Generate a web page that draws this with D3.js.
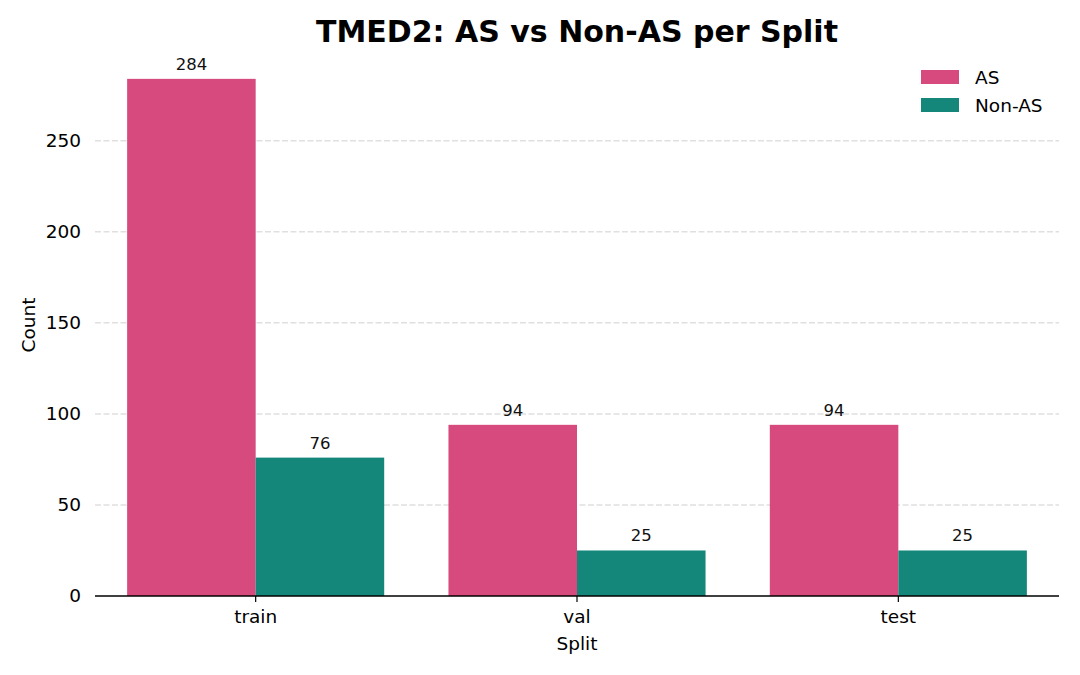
<!DOCTYPE html>
<html><head><meta charset="utf-8">
<script src="https://cdn.jsdelivr.net/npm/d3@7"></script>
<style>body{margin:0;background:#fff;} text{font-family:"DejaVu Sans",sans-serif;}</style>
</head><body>
<svg id="c" width="1080" height="675"></svg>
<script>
const splits = ["train", "val", "test"];
const seriesNames = ["AS", "Non-AS"];
const asCounts = [284, 94, 94];
const nonAsCounts = [76, 25, 25];
const yTicks = [0, 50, 100, 150, 200, 250];
const colors = ["#d64a7d", "#14877a"];

const svg = d3.select("#c");
const m = {l: 95, r: 1059, t: 53, b: 596};
const x = d3.scaleBand().domain(splits).range([m.l, m.r]).paddingInner(0.2).paddingOuter(0.1);
const xs = d3.scaleBand().domain(seriesNames).range([0, x.bandwidth()]);
const y = d3.scaleLinear().domain([0, 298.2]).range([m.b, m.t]);

// grid
svg.append("g").selectAll("line").data(yTicks.filter(d => d > 0)).join("line")
  .attr("x1", m.l).attr("x2", m.r).attr("y1", d => y(d)).attr("y2", d => y(d))
  .attr("stroke", "#e0e0e0").attr("stroke-width", 1.5).attr("stroke-dasharray", "6,2.5");

const data = splits.map((s, i) => ({split: s, vals: [asCounts[i], nonAsCounts[i]]}));
const g = svg.append("g").selectAll("g").data(data).join("g")
  .attr("transform", d => `translate(${x(d.split)},0)`);
g.selectAll("rect").data(d => d.vals.map((v, j) => ({k: seriesNames[j], v, j}))).join("rect")
  .attr("x", d => xs(d.k)).attr("width", xs.bandwidth())
  .attr("y", d => y(d.v)).attr("height", d => m.b - y(d.v))
  .attr("fill", d => colors[d.j]);
g.selectAll("text").data(d => d.vals.map((v, j) => ({k: seriesNames[j], v, j}))).join("text")
  .attr("x", d => xs(d.k) + xs.bandwidth() / 2).attr("y", d => y(d.v) - 9)
  .attr("text-anchor", "middle").attr("font-size", 16.5).attr("fill", "#111")
  .text(d => d.v);

// x axis
const xa = svg.append("g").attr("transform", `translate(0,${m.b})`)
  .call(d3.axisBottom(x).tickSize(6).tickPadding(8).tickSizeOuter(0));
xa.select(".domain").attr("d", `M${m.l},0H${m.r}`).attr("stroke", "#000").attr("stroke-width", 1.3);
xa.selectAll("text").attr("font-size", 18.5).attr("fill", "#000").style("font-family", "DejaVu Sans");
xa.selectAll(".tick line").attr("stroke", "#000").attr("stroke-width", 1.2);

// y axis
const ya = svg.append("g").attr("transform", `translate(${m.l},0)`)
  .call(d3.axisLeft(y).tickValues(yTicks).tickSize(0).tickPadding(14));
ya.select(".domain").remove();
ya.selectAll("text").attr("font-size", 18.5).attr("fill", "#000").style("font-family", "DejaVu Sans");

// labels
svg.append("text").attr("x", 577).attr("y", 42).attr("text-anchor", "middle")
  .attr("font-size", 30).attr("font-weight", "bold").text("TMED2: AS vs Non-AS per Split");
svg.append("text").attr("x", 577).attr("y", 650).attr("text-anchor", "middle")
  .attr("font-size", 18.5).text("Split");
svg.append("text").attr("transform", "translate(35,325) rotate(-90)").attr("text-anchor", "middle")
  .attr("font-size", 18.5).text("Count");

// legend
const lg = svg.append("g").selectAll("g").data(seriesNames).join("g")
  .attr("transform", (d, i) => `translate(921,${70 + i * 28})`);
lg.append("rect").attr("width", 38).attr("height", 14).attr("fill", (d, i) => colors[i]);
lg.append("text").attr("x", 54).attr("y", 14).attr("font-size", 18.5).text(d => d);
</script>
</body></html>
